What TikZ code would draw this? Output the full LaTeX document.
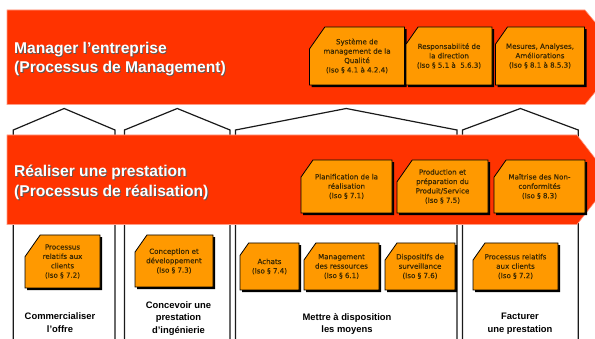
\documentclass[tikz,border=0pt]{standalone}
\usepackage{fontspec}
\setmainfont{Liberation Sans}
\newfontfamily\boxfont[FakeBold=0.3]{DejaVu Sans}
\usetikzlibrary{shapes.misc,shadows}
\definecolor{QualRed}{HTML}{FF3300}
\definecolor{QualEdge}{HTML}{FF9C86}
\definecolor{QualOrange}{HTML}{FF9900}
\definecolor{QualInk}{HTML}{3A2800}
\definecolor{QualWall}{HTML}{1A1A1A}
\tikzset{
  band/.style={
    fill=QualRed,
    draw=QualEdge,
    line width=0.6pt
  },
  wall/.style={
    draw=QualWall,
    line width=1.2pt,
    line join=miter
  },
  procbox/.style={
    chamfered rectangle,
    chamfered rectangle corners=north west,
    chamfered rectangle xsep=13pt,
    chamfered rectangle angle=35,
    draw=black,
    fill=QualOrange,
    line width=0.8pt,
    drop shadow={shadow xshift=2.2pt,shadow yshift=-2.2pt,
      fill=black,opacity=1},
    inner sep=1pt,
    align=center,
    font=\boxfont\fontsize{7.1}{9.4}\selectfont,
    text=QualInk
  },
  bandtitle/.style={
    anchor=base west,
    text=white,
    font=\bfseries\fontsize{15.6}{19}\selectfont,
    inner sep=0pt
  },
  titleshadow/.style={
    bandtitle,
    text=black!65
  },
  caption/.style={
    align=center,
    font=\bfseries\fontsize{9.4}{12.8}\selectfont,
    text=black,
    inner sep=0pt
  }
}

\begin{document}
\begin{tikzpicture}[x=1pt,y=-1pt]
  \useasboundingbox (0,0) rectangle (595,339);
  \clip (0,0) rectangle (595,339);

  % Four process columns, each with its own roof.
  \foreach \l/\r in {13.3/115, 124.5/230, 235.5/457, 462.5/578.3}
    \draw[wall] (\l,339) -- (\l,130) -- ({(\l+\r)/2},108.5)
      -- (\r,130) -- (\r,339);

  % The two arrow bands.
  \draw[band] (7,10) -- (585,10) -- (624,57) -- (585,104.5)
    -- (7,104.5) -- cycle;
  \draw[band] (7,135) -- (577,135) -- (612,180) -- (577,224.5)
    -- (7,224.5) -- cycle;

  % Band titles with their dark shadow.
  \node[titleshadow] at (14.9,54.9) {Manager l’entreprise};
  \node[titleshadow] at (14.9,73.9) {(Processus de Management)};
  \node[bandtitle] (mgmt-a) at (14,54) {Manager l’entreprise};
  \node[bandtitle] (mgmt-b) at (14,73) {(Processus de Management)};

  \node[titleshadow] at (14.9,177.9) {Réaliser une prestation};
  \node[titleshadow] at (14.9,197.9) {(Processus de réalisation)};
  \node[bandtitle] (real-a) at (14,177) {Réaliser une prestation};
  \node[bandtitle] (real-b) at (14,197) {(Processus de réalisation)};

  % Management processes.
  \node[procbox,minimum width=90pt,minimum height=58pt] (sysqual)
    at (357,56) {Système de\\management de la\\Qualité\\(Iso § 4.1 à 4.2.4)};
  \node[procbox,minimum width=86pt,minimum height=58pt] (respdir)
    at (449,56) {Responsabilité de\\la direction\\(Iso § 5.1 à~ 5.6.3)};
  \node[procbox,minimum width=88pt,minimum height=58pt] (mesures)
    at (540,56) {Mesures, Analyses,\\Améliorations\\(Iso § 8.1 à 8.5.3)};

  % Realisation processes.
  \node[procbox,minimum width=91pt,minimum height=53pt] (planif)
    at (346.5,186.5) {Planification de la\\réalisation\\(Iso § 7.1)};
  \node[procbox,minimum width=91pt,minimum height=53pt] (product)
    at (442.5,186.5) {Production et\\préparation du\\Produit/Service\\(Iso § 7.5)};
  \node[procbox,minimum width=91pt,minimum height=53pt] (nonconf)
    at (539.5,186.5) {Maîtrise des Non-\\conformités\\(Iso § 8.3)};

  % Column processes.
  \node[procbox,minimum width=75pt,minimum height=53pt] (clients-a)
    at (62.5,261.5) {Processus\\relatifs aux\\clients\\(Iso § 7.2)};
  \node[procbox,minimum width=78pt,minimum height=52pt] (concept)
    at (174,261) {Conception et\\développement\\(Iso § 7.3)};
  \node[procbox,minimum width=59pt,minimum height=47pt] (achats)
    at (269.5,266.5) {Achats\\(Iso § 7.4)};
  \node[procbox,minimum width=75pt,minimum height=47pt] (ressources)
    at (341.5,266.5) {Management\\des ressources\\(Iso § 6.1)};
  \node[procbox,minimum width=70pt,minimum height=47pt] (surveil)
    at (420,266.5) {Dispositifs de\\surveillance\\(Iso § 7.6)};
  \node[procbox,minimum width=85pt,minimum height=47pt] (clients-b)
    at (515.5,266.5) {Processus relatifs\\aux clients\\(Iso § 7.2)};

  % Column captions.
  \node[caption] (commercial) at (60,323) {Commercialiser\\l’offre};
  \node[caption] (concevoir) at (178.5,318.5)
    {Concevoir une\\prestation\\d’ingénierie};
  \node[caption] (moyens) at (347,324) {Mettre à disposition\\les moyens};
  \node[caption] (facturer) at (520,324) {Facturer\\une prestation};
\end{tikzpicture}
\end{document}
